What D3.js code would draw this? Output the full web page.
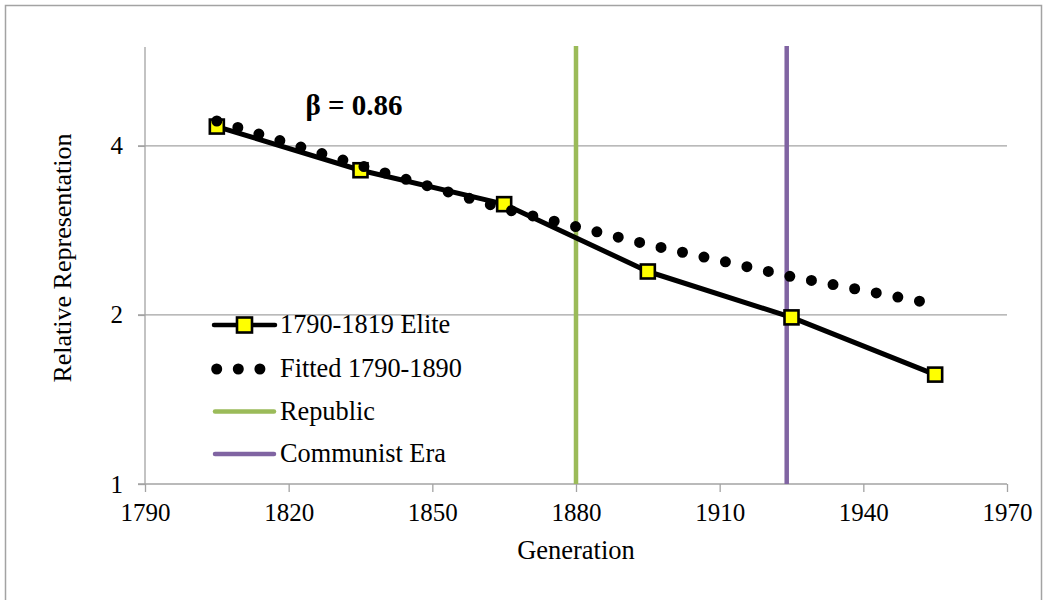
<!DOCTYPE html>
<html>
<head>
<meta charset="utf-8">
<script src="https://cdn.jsdelivr.net/npm/d3@7"></script>
<style>
  html, body { margin: 0; padding: 0; background: #fff; }
  svg { display: block; }
</style>
</head>
<body>
<svg id="chart" width="1047" height="600"></svg>
<script>
// ---- data ----
const generations = [1805, 1835, 1865, 1895, 1925, 1955];
const eliteValues = [4.33, 3.62, 3.15, 2.39, 1.98, 1.566];
const fittedValues = [4.43, 3.69, 3.09, 2.67, 2.34, 2.09];
const eventNames = ["Republic", "Communist Era"];
const eventYears = [1880, 1924];
const xTicks = [1790, 1820, 1850, 1880, 1910, 1940, 1970];
const yTicks = [1, 2, 4];
const seriesNames = ["1790-1819 Elite", "Fitted 1790-1890", "Republic", "Communist Era"];
const betaLabel = "β = 0.86";

const FONT = "'Liberation Serif', Tinos, 'DejaVu Serif', 'Times New Roman', Times, serif";

// ---- layout ----
const svg = d3.select("#chart");
const L = 145, R = 1007, T = 47, B = 484;
const x = d3.scaleLinear().domain([1790, 1970]).range([L, R]);
const y = d3.scaleLog().base(2).domain([1, 6]).range([B, T]);
const grey = "#a3a3a3";
const green = "#9bbb59", purple = "#8064a2";

// outer border
svg.append("rect").attr("x", 5.5).attr("y", 5.5).attr("width", 1036).attr("height", 600)
  .attr("fill", "none").attr("stroke", grey).attr("stroke-width", 1.5);

// gridlines (y)
svg.append("g").selectAll("line").data(yTicks.filter(d => d !== 1)).join("line")
  .attr("x1", L - 7).attr("x2", R).attr("y1", d => y(d)).attr("y2", d => y(d))
  .attr("stroke", grey).attr("stroke-width", 1.3);

// y axis
const yAxis = svg.append("g").attr("transform", `translate(${L},0)`)
  .call(d3.axisLeft(y).tickValues(yTicks).tickFormat(d3.format("d")).tickSize(7).tickPadding(15));
yAxis.attr("font-family", FONT);
yAxis.select(".domain").attr("stroke", grey).attr("stroke-width", 1.3)
  .attr("d", `M0,${T}V${B}`);
yAxis.selectAll(".tick line").attr("stroke", grey).attr("stroke-width", 1.3);
yAxis.selectAll(".tick text").attr("font-size", 25).style("font-family", FONT).attr("fill", "#000");

// x axis
const xAxis = svg.append("g").attr("transform", `translate(0,${B})`)
  .call(d3.axisBottom(x).tickValues(xTicks).tickFormat(d3.format("d")).tickSize(8).tickPadding(11));
xAxis.attr("font-family", FONT);
xAxis.select(".domain").attr("stroke", grey).attr("stroke-width", 1.3)
  .attr("d", `M${L - 7},0H${R}`);
xAxis.selectAll(".tick line").attr("stroke", grey).attr("stroke-width", 1.3);
xAxis.selectAll(".tick text").attr("font-size", 25).style("font-family", FONT).attr("fill", "#000");

// event vertical lines
const eventColors = [green, purple];
svg.append("g").selectAll("line").data(eventYears).join("line")
  .attr("x1", d => x(d)).attr("x2", d => x(d))
  .attr("y1", y(6) - 1).attr("y2", B)
  .attr("stroke", (d, i) => eventColors[i]).attr("stroke-width", 4.5);

// elite line
const line = d3.line().x(d => x(d[0])).y(d => y(d[1]));
const elite = generations.map((g, i) => [g, eliteValues[i]]);
const fitted = generations.map((g, i) => [g, fittedValues[i]]);

svg.append("path").datum(elite).attr("d", line)
  .attr("fill", "none").attr("stroke", "#000").attr("stroke-width", 5)
  .attr("stroke-linejoin", "round");

const sq = 14;
svg.append("g").selectAll("rect").data(elite).join("rect")
  .attr("x", d => x(d[0]) - sq / 2).attr("y", d => y(d[1]) - sq / 2)
  .attr("width", sq).attr("height", sq)
  .attr("fill", "#ffff00").attr("stroke", "#000").attr("stroke-width", 2.6);

// fitted dotted line
svg.append("path").datum(fitted).attr("d", line)
  .attr("fill", "none").attr("stroke", "#000").attr("stroke-width", 11)
  .attr("stroke-linecap", "round").attr("stroke-dasharray", "0 22");

// beta annotation
svg.append("text").attr("x", 354).attr("y", 115).attr("text-anchor", "middle")
  .style("font-family", FONT)
  .attr("font-size", 29).attr("font-weight", "bold").text(betaLabel);

// axis titles
svg.append("text").attr("x", 576).attr("y", 559).attr("text-anchor", "middle")
  .style("font-family", FONT)
  .attr("font-size", 26.5).text("Generation");
svg.append("text").attr("transform", "translate(71,258) rotate(-90)").attr("text-anchor", "middle")
  .style("font-family", FONT)
  .attr("font-size", 26).text("Relative Representation");

// legend
const legX1 = 214, legX2 = 275, legText = 280;
const legY = [325, 369, 411.5, 454];
const leg = svg.append("g");
seriesNames.forEach((name, i) => {
  const cy = legY[i];
  if (i === 0) {
    leg.append("line").attr("x1", legX1).attr("x2", legX2).attr("y1", cy).attr("y2", cy)
      .attr("stroke", "#000").attr("stroke-width", 4.5).attr("stroke-linecap", "round");
    leg.append("rect").attr("x", (legX1 + legX2) / 2 - 7.5).attr("y", cy - 7.5)
      .attr("width", 15).attr("height", 15)
      .attr("fill", "#ffff00").attr("stroke", "#000").attr("stroke-width", 2.6);
  } else if (i === 1) {
    leg.append("line").attr("x1", 216.7).attr("x2", 262).attr("y1", cy).attr("y2", cy)
      .attr("stroke", "#000").attr("stroke-width", 11).attr("stroke-linecap", "round")
      .attr("stroke-dasharray", "0 21.6");
  } else {
    leg.append("line").attr("x1", legX1 + 1).attr("x2", legX2 - 1).attr("y1", cy).attr("y2", cy)
      .attr("stroke", eventColors[i - 2]).attr("stroke-width", 4.5).attr("stroke-linecap", "round");
  }
  leg.append("text").attr("x", legText).attr("y", cy + 8).style("font-family", FONT)
    .attr("font-size", 26.3).text(name);
});
</script>
</body>
</html>
